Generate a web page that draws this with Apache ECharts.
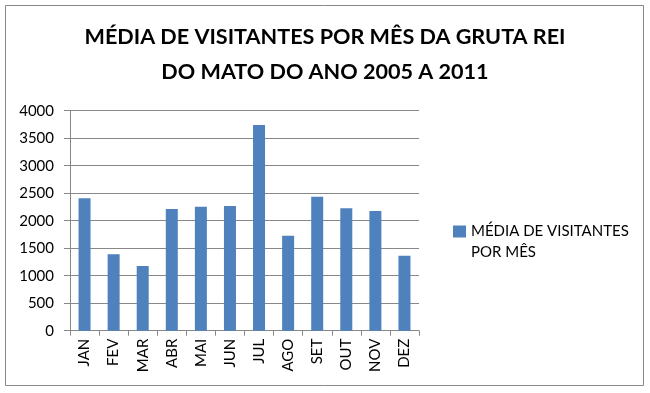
<!DOCTYPE html>
<html><head><meta charset="utf-8">
<script src="https://cdn.jsdelivr.net/npm/echarts@6/dist/echarts.min.js"></script>
<style>html,body{margin:0;padding:0;background:#fff}#c{width:650px;height:393px}</style>
</head><body><div id="c"></div>
<script>
const categories = ['JAN','FEV','MAR','ABR','MAI','JUN','JUL','AGO','SET','OUT','NOV','DEZ'];
const visitors = [2407, 1389, 1176, 2212, 2255, 2267, 3740, 1727, 2436, 2225, 2176, 1364];
const seriesName = 'MÉDIA DE VISITANTES POR MÊS';
const legendLines = ['MÉDIA DE VISITANTES', 'POR MÊS'];
const titleLines = ['MÉDIA DE VISITANTES POR MÊS DA GRUTA REI', 'DO MATO DO ANO 2005 A 2011'];

const chart = echarts.init(document.getElementById('c'), null, {renderer:'canvas'});
chart.setOption({
  animation:false,
  backgroundColor:'#fff',
  graphic:[{type:'rect', shape:{x:5.5,y:5.5,width:638,height:380}, style:{fill:'none', stroke:'#888', lineWidth:1}, silent:true}],
  title:{
    text: titleLines.join('\n'), left:'center', top:15,
    textStyle:{fontFamily:'Lato', fontWeight:'bold', fontSize:21.6, color:'#000', lineHeight:35}
  },
  legend:{
    left:448, top:216, itemWidth:13, itemHeight:33,
    icon:'path://M0,0H13V12H0Z M0,33L0,33',
    formatter: () => legendLines.join('\n'),
    textStyle:{fontFamily:'Lato', fontSize:15, color:'#000', lineHeight:21}
  },
  grid:{left:70, right:231, top:110.7, bottom:62.3},
  xAxis:{
    type:'category', data:categories,
    axisLine:{lineStyle:{color:'#888'}},
    axisTick:{show:true, interval:0, length:5, lineStyle:{color:'#888'}},
    axisLabel:{rotate:90, interval:0, fontFamily:'Lato', fontSize:15, color:'#000', margin:8}
  },
  yAxis:{
    type:'value', min:0, max:4000, interval:500,
    axisLine:{show:true, lineStyle:{color:'#888'}},
    axisTick:{show:true, length:6, lineStyle:{color:'#888'}},
    axisLabel:{fontFamily:'Lato', fontSize:15, color:'#000', margin:16, formatter: v => String(v)},
    splitLine:{lineStyle:{color:'#888'}}
  },
  series:[{name:seriesName, type:'bar', data:visitors, barWidth:12, itemStyle:{color:'#4F81BD'}}]
});
</script></body></html>
